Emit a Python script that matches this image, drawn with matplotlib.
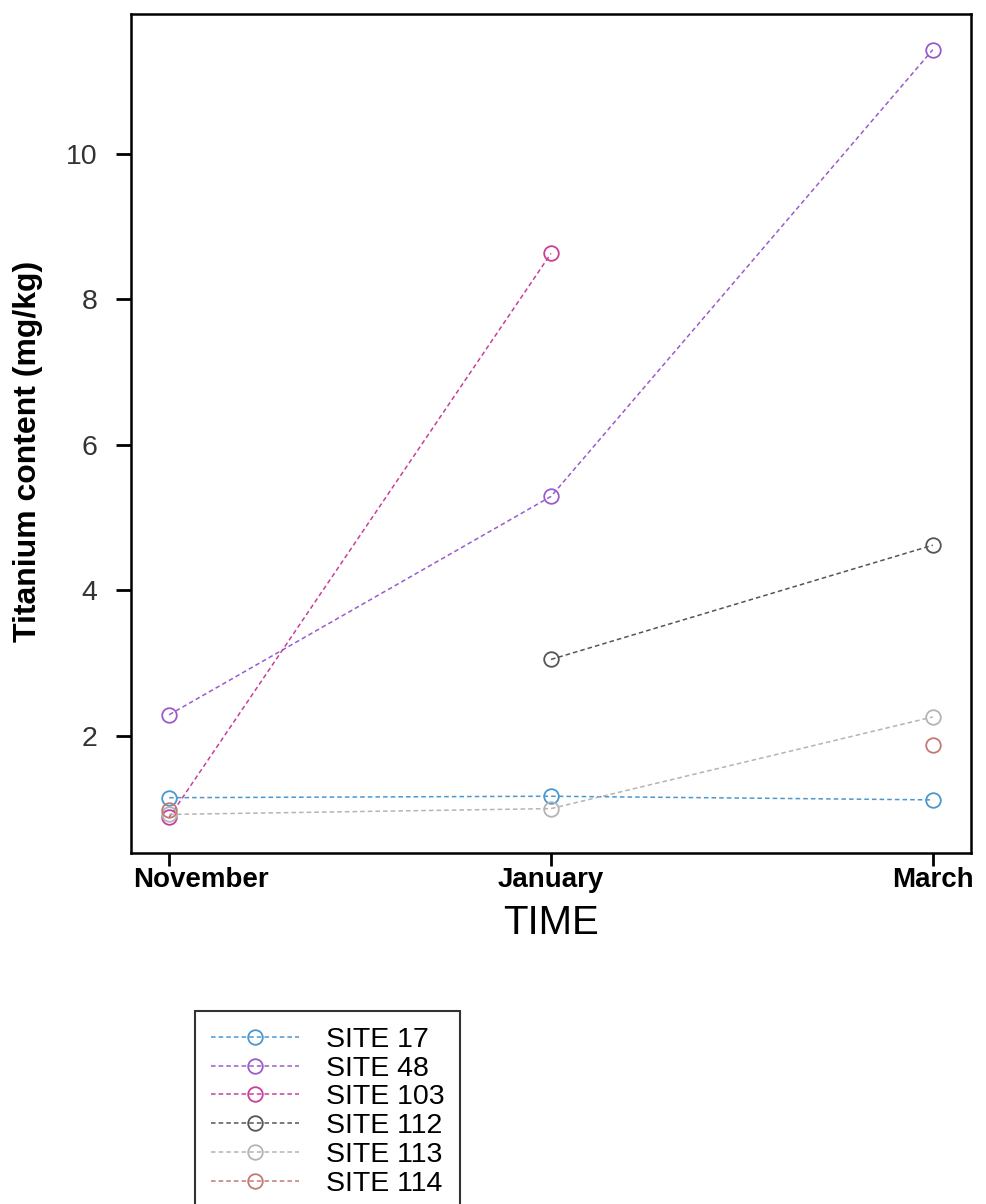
import numpy as np
import matplotlib.pyplot as plt
from matplotlib.transforms import ScaledTranslation

plt.rcParams['font.family'] = ['Liberation Sans', 'DejaVu Sans']

# months on the x axis
months = ["November", "January", "March"]

# titanium content (mg/kg), nan = no sample
site_17 = [1.15, 1.17, 1.12]
site_48 = [2.29, 5.29, 11.43]
site_103 = [0.88, 8.63, np.nan]
site_112 = [np.nan, 3.05, 4.62]
site_113 = [0.92, 1.00, 2.26]
site_114 = [0.98, np.nan, 1.88]

series = [
    ("SITE 17", site_17, "#4b97d0"),
    ("SITE 48", site_48, "#9a5ccc"),
    ("SITE 103", site_103, "#c8409a"),
    ("SITE 112", site_112, "#555555"),
    ("SITE 113", site_113, "#b4b4b4"),
    ("SITE 114", site_114, "#c27a76"),
]

W, H = 987, 1204
fig = plt.figure(figsize=(W / 100, H / 100), dpi=100)
ax = fig.add_axes([131 / W, 1 - 853 / H, 840 / W, 839 / H])

x = np.arange(len(months))
for name, vals, col in series:
    ax.plot(x, vals, linestyle=(0, (3, 2)), linewidth=1.1, color=col,
            marker='o', markersize=10.5, markerfacecolor='none',
            markeredgecolor=col, markeredgewidth=1.3, label=name)

ax.set_xlim(-0.1, 2.1)
ax.set_ylim(0.39, 11.92)
ax.set_xticks(x)
ax.set_xticklabels(months, fontsize=20, fontweight='bold')
ax.set_yticks([2, 4, 6, 8, 10])
ax.tick_params(axis='y', length=11, width=2, labelsize=20.5, pad=13,
               labelcolor='#333333')
ax.tick_params(axis='x', length=9, width=2, pad=1)
for sp in ax.spines.values():
    sp.set_linewidth(1.8)

# first month label sits shifted right, inside the frame edge
first = ax.get_xticklabels()[0]
first.set_transform(first.get_transform() +
                    ScaledTranslation(0.32, 0, fig.dpi_scale_trans))

ax.set_ylabel("Titanium content (mg/kg)", fontsize=23, fontweight='bold')
ax.yaxis.set_label_coords(-0.105, 0.479)
ax.set_xlabel("TIME", fontsize=29, labelpad=8)

leg = fig.legend(loc='upper left', bbox_to_anchor=(195 / W, 1 - 1011 / H),
                 bbox_transform=fig.transFigure, fontsize=20.5,
                 frameon=True, fancybox=False, edgecolor='black',
                 handlelength=3.1, handletextpad=0.95, labelspacing=0.1,
                 borderpad=0.55, borderaxespad=0)
leg.get_frame().set_linewidth(1.5)

fig.savefig("out.png", dpi=100)
